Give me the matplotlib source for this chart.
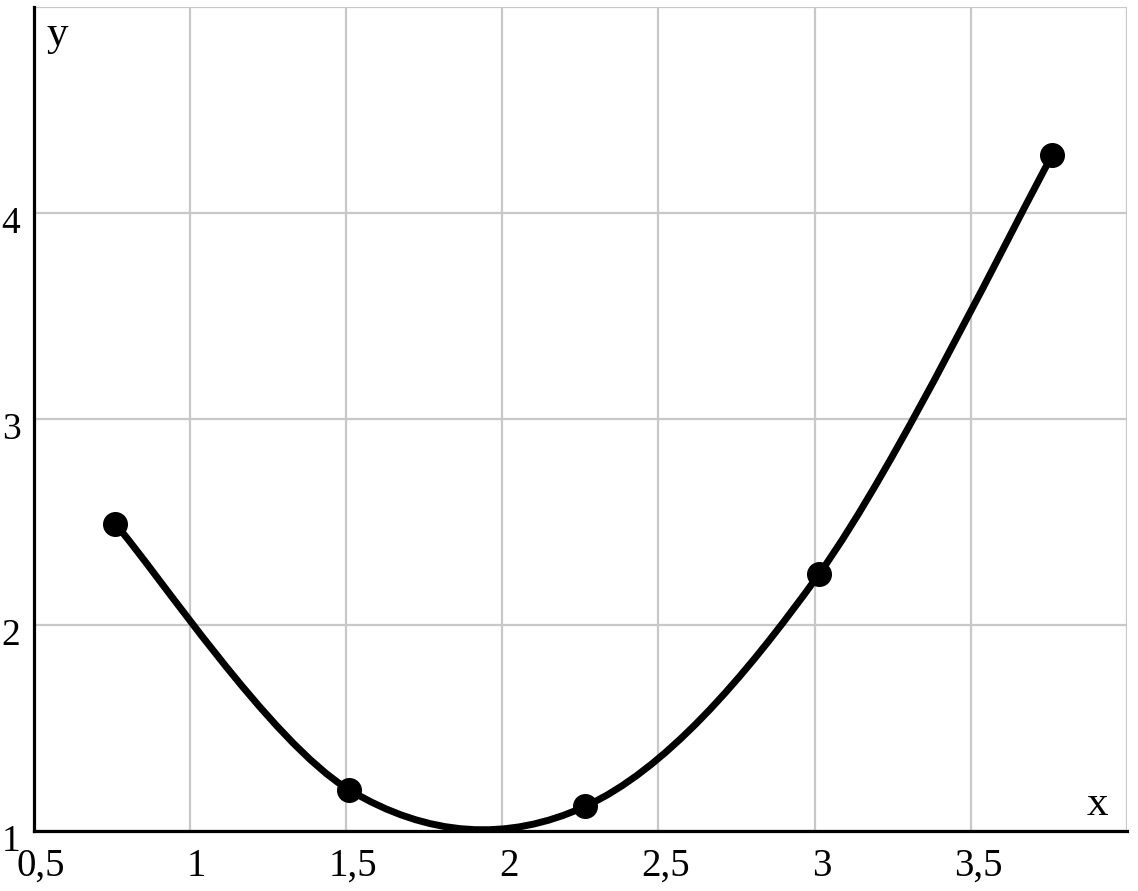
import matplotlib.pyplot as plt
import matplotlib.transforms as mtransforms
from matplotlib.path import Path
from matplotlib.patches import PathPatch

x_points = [0.762, 1.51, 2.266, 3.015, 3.76]
y_points = [2.49, 1.2, 1.12, 2.25, 4.28]

x_ticks = [0.5, 1, 1.5, 2, 2.5, 3, 3.5, 4]
x_tick_labels = ["0,5", "1", "1,5", "2", "2,5", "3", "3,5", ""]
y_ticks = [1, 2, 3, 4, 5]
y_tick_labels = ["1", "2", "3", "4", ""]


def smooth_path(xs, ys):
    # catmull-rom style smoothing, like spreadsheet "smoothed line"
    pts = list(zip(xs, ys))
    verts = [pts[0]]
    codes = [Path.MOVETO]
    n = len(pts)
    for i in range(n - 1):
        p0 = pts[i - 1] if i > 0 else pts[i]
        p1 = pts[i]
        p2 = pts[i + 1]
        p3 = pts[i + 2] if i + 2 < n else pts[i + 1]
        c1 = (p1[0] + (p2[0] - p0[0]) / 6, p1[1] + (p2[1] - p0[1]) / 6)
        c2 = (p2[0] - (p3[0] - p1[0]) / 6, p2[1] - (p3[1] - p1[1]) / 6)
        verts += [c1, c2, p2]
        codes += [Path.CURVE4] * 3
    return Path(verts, codes)


plt.rcParams['font.family'] = ['Liberation Serif', 'DejaVu Serif']

fig = plt.figure(figsize=(11.38, 8.91), dpi=100)
ax = fig.add_axes([0.0295, 0.0673, 0.961, 0.9248])

ax.set_xlim(0.5, 4)
ax.set_ylim(1, 5)
ax.set_xticks(x_ticks)
ax.set_xticklabels(x_tick_labels)
ax.set_yticks(y_ticks)
ax.set_yticklabels(y_tick_labels)
ax.tick_params(length=0, labelsize=28, pad=12)
ax.tick_params(axis='y', labelsize=27, pad=9.5)

# shift tick labels a bit like the original
dx = mtransforms.ScaledTranslation(7 / 100, 0, fig.dpi_scale_trans)
for lab in ax.get_xticklabels():
    lab.set_transform(lab.get_transform() + dx)
dy = mtransforms.ScaledTranslation(0, -7 / 100, fig.dpi_scale_trans)
for lab in ax.get_yticklabels():
    lab.set_transform(lab.get_transform() + dy)

ax.grid(True, color='#c8c8c8', linewidth=1.6)
ax.set_axisbelow(True)
for s in ['top', 'right']:
    ax.spines[s].set_visible(False)
for s in ['left', 'bottom']:
    ax.spines[s].set_linewidth(2.3)
    ax.spines[s].set_color('black')
    ax.spines[s].set_zorder(5)

patch = PathPatch(smooth_path(x_points, y_points), facecolor='none',
                  edgecolor='black', linewidth=5, capstyle='round', zorder=3)
ax.add_patch(patch)
ax.plot(x_points, y_points, 'o', color='black', markersize=17, zorder=4, clip_on=False)

ax.text(0.012, 0.99, "y", transform=ax.transAxes, fontsize=31, va='top', ha='left')
ax.text(0.983, 0.008, "x", transform=ax.transAxes, fontsize=31, va='bottom', ha='right')

plt.savefig("out.png", dpi=100)
